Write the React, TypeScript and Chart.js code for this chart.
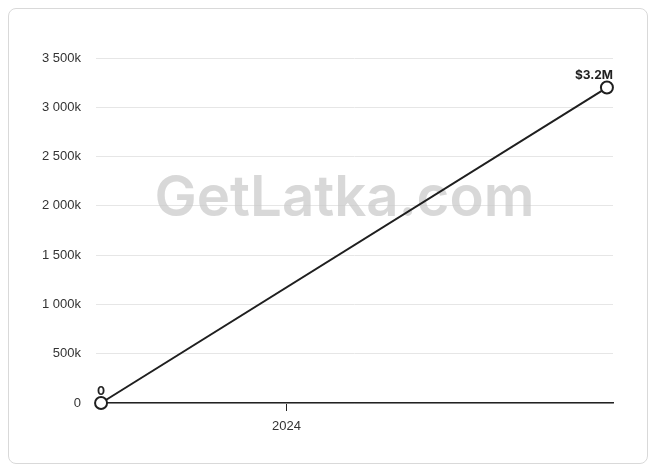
import React, { useEffect, useRef } from "react";
import { Chart, registerables } from "chart.js";

Chart.register(...registerables);

// Data
const periods = [2023.45, 2024.95]; // fractional years of the two observations
const revenue = [0, 3200000];
const pointLabels = ["0", "$3.2M"];
const xTickYears = [2024];
const xTickLabels = ["2024"];
const yMax = 3500000;
const yStep = 500000;

const fmtY = (v: number) => {
  if (v === 0) return "0";
  const k = Math.round(v / 1000);
  const s = String(k).replace(/\B(?=(\d{3})+(?!\d))/g, " ");
  return s + "k";
};

const watermarkPlugin = {
  id: "watermark",
  beforeDatasetsDraw(chart: any) {
    const { ctx, chartArea } = chart;
    ctx.save();
    ctx.font = "600 100px Inter, 'Noto Sans', sans-serif";
    const w = ctx.measureText("GetLatka.com").width;
    const size = (100 * 380) / w;
    ctx.font = `600 ${size}px Inter, 'Noto Sans', sans-serif`;
    ctx.fillStyle = "rgba(200,200,200,0.7)";
    ctx.textAlign = "center";
    ctx.textBaseline = "middle";
    const cx = (chartArea.left + chartArea.right) / 2 - 10;
    const cy = chartArea.top + (chartArea.bottom - chartArea.top) * 0.41;
    ctx.fillText("GetLatka.com", cx, cy);
    ctx.restore();
  },
};

const labelPlugin = {
  id: "pointLabels",
  afterDatasetsDraw(chart: any) {
    const { ctx, chartArea } = chart;
    const meta = chart.getDatasetMeta(0);
    ctx.save();
    ctx.font = "bold 12px Inter, 'Noto Sans', sans-serif";
    ctx.fillStyle = "#222";
    ctx.textAlign = "center";
    ctx.textBaseline = "middle";
    meta.data.forEach((pt: any, i: number) => {
      const text = pointLabels[i];
      const tw = ctx.measureText(text).width;
      let x = pt.x;
      if (x + tw / 2 > chartArea.right) x = chartArea.right - tw / 2;
      ctx.fillText(text, x, pt.y - 12);
    });
    ctx.restore();
  },
};

export default function App() {
  const ref = useRef<HTMLCanvasElement>(null);
  useEffect(() => {
    if (!ref.current) return;
    const chart = new Chart(ref.current, {
      type: "line",
      data: {
        datasets: [
          {
            data: periods.map((p, i) => ({ x: p, y: revenue[i] })),
            borderColor: "#1f1f1f",
            borderWidth: 2,
            pointRadius: 6,
            pointHoverRadius: 6,
            pointBackgroundColor: "#ffffff",
            pointBorderColor: "#1f1f1f",
            pointBorderWidth: 2,
            tension: 0,
            clip: false,
          },
        ],
      },
      options: {
        animation: false,
        responsive: true,
        maintainAspectRatio: false,
        layout: { padding: { left: 0, right: 34, top: 49, bottom: 30 } },
        plugins: { legend: { display: false }, tooltip: { enabled: false } },
        scales: {
          x: {
            type: "linear",
            min: periods[0] - 0.015,
            max: periods[periods.length - 1] + 0.018,
            afterBuildTicks: (scale: any) => {
              scale.ticks = xTickYears.map((v) => ({ value: v }));
            },
            afterFit: (scale: any) => {
              scale.height = 30;
            },
            ticks: {
              autoSkip: false,
              maxRotation: 0,
              padding: 8,
              color: "#333",
              font: { family: "Arial, 'Liberation Sans', sans-serif", size: 13 },
              callback: (v: any) => {
                const i = xTickYears.indexOf(Number(v));
                return i >= 0 ? xTickLabels[i] : "";
              },
            },
            grid: {
              drawOnChartArea: false,
              drawTicks: true,
              tickLength: 8,
              color: "#222",
              lineWidth: 1,
            },
            border: { display: true, color: "#222", width: 1.5 },
          },
          y: {
            min: 0,
            max: yMax,
            afterFit: (scale: any) => {
              scale.width = 87;
            },
            ticks: {
              stepSize: yStep,
              padding: 15,
              color: "#333",
              font: { family: "Arial, 'Liberation Sans', sans-serif", size: 13 },
              callback: (v: any) => fmtY(Number(v)),
            },
            grid: { color: "#e6e6e6", drawTicks: false, lineWidth: 1 },
            border: { display: false },
          },
        },
      },
      plugins: [watermarkPlugin, labelPlugin],
    } as any);
    return () => chart.destroy();
  }, []);

  return (
    <div
      style={{
        width: 638,
        height: 454,
        border: "1px solid #d9d9d9",
        borderRadius: 8,
        position: "relative",
        fontFamily: "Arial, sans-serif",
      }}
    >
      <canvas ref={ref} />
    </div>
  );
}
